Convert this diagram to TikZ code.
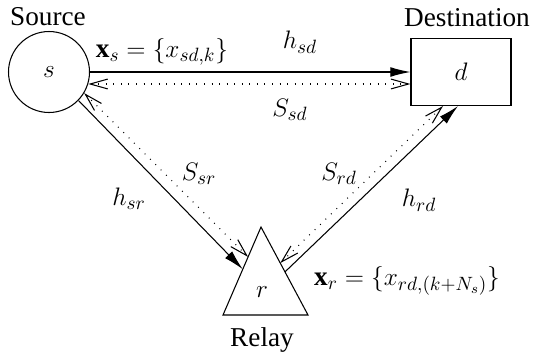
\documentclass[tikz,border=0pt]{standalone}
\usepackage{fontspec}
\setmainfont{Liberation Serif}
\usepackage{amsmath}
\usepackage{amssymb}
\usetikzlibrary{arrows.meta, positioning, calc}

\begin{document}
\begin{tikzpicture}[
    x=0.02cm, y=-0.02cm,
    font=\fontsize{15.5}{18}\selectfont,
    every path/.style={line width=0.6pt},
    srcnode/.style={draw, circle, inner sep=0pt, minimum size=1.62cm},
    dstnode/.style={draw, rectangle, inner sep=0pt,
                    minimum width=2cm, minimum height=1.34cm},
    chan/.style={-{Latex[length=11.5pt, width=5.6pt]}},
    fback/.style={{Straight Barb[length=10pt, width=5.6pt]}-{Straight Barb[length=10pt, width=5.6pt]},
                  dash pattern=on 0.5pt off 3.8pt},
]
    \useasboundingbox (0,0) rectangle (536,356);

    % Terminals
    \node[srcnode] (s) at (49,72) {$s$};
    \node (s-lbl) at (48,17) {Source};
    \node[dstnode] (d) at (461,72) {$d$};
    \node (d-lbl) at (467,18) {Destination};

    % Relay triangle
    \coordinate (rt) at (261,227);
    \coordinate (rl) at (223,315);
    \coordinate (rr) at (308,315);
    \draw (rt) -- (rr) -- (rl) -- cycle;
    \node (r) at (262,292) {$r$};
    \node (r-lbl) at (262,340) {Relay};

    % Direct link
    \draw[chan] (s.east) -- (d.west);
    \draw[fback] (s.-17) -- (s.-17 -| d.west);

    % Relay links
    \draw[chan] (s.-44) -- ($(rt)!0.48!(rl)$);
    \draw[fback] (s.-31) -- ($(rt)!0.34!(rl)$);
    \draw[chan] ($(rt)!0.51!(rr)$) -- ($(d.south)+(-3,0)$);
    \draw[fback] ($(rt)!0.41!(rr)$) -- ($(d.south)+(-18,0)$);

    % Labels
    \node (xs) at (162,52) {$\mathbf{x}_s = \{x_{sd,k}\}$};
    \node (hsd) at (300,42) {$h_{sd}$};
    \node (ssd) at (290,110) {$S_{sd}$};
    \node (ssr) at (199,174) {$S_{sr}$};
    \node (hsr) at (129,199) {$h_{sr}$};
    \node (srd) at (339,174) {$S_{rd}$};
    \node (hrd) at (419,200) {$h_{rd}$};
    \node (xr) at (407,281) {$\mathbf{x}_r = \{x_{rd,(k+N_s)}\}$};
\end{tikzpicture}
\end{document}
